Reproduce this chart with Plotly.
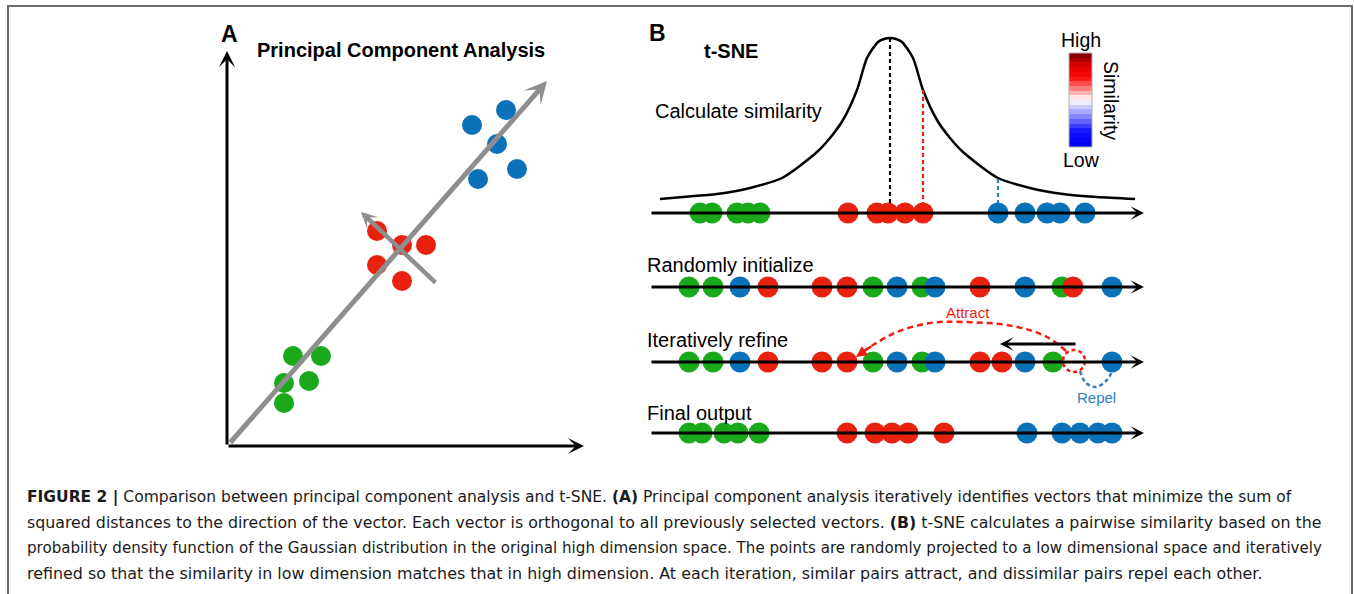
import plotly.graph_objects as go

W, H = 1354, 594

GREEN = "#19a91b"
RED = "#e8220f"
BLUE = "#0b72b9"
GRAY = "#8e8e8e"
COLORS = {"g": GREEN, "r": RED, "b": BLUE}

# ---------------- Panel A : PCA (canvas pixel units) ----------------
pca_green_x = [293, 321, 284, 309, 284]
pca_green_y = [356, 356, 383, 381, 403]
pca_red_x = [377, 402, 426, 377, 402]
pca_red_y = [231, 245, 245, 265, 281]
pca_blue_x = [506, 472, 497, 517, 478]
pca_blue_y = [110, 125, 144, 169, 179]
pca_origin = [227, 446]
pca_xaxis_tip = [584, 446]
pca_yaxis_tip = [227, 51]
pc1_tail, pc1_tip = [229, 444], [547, 81]
pc2_tail, pc2_tip = [437, 284], [361, 212]

# ---------------- Panel B : t-SNE ----------------
row_y = [213, 287, 362, 433]
row_x_start, row_x_tip = 650, 1144
row_labels = ["Calculate similarity", "Randomly initialize", "Iteratively refine", "Final output"]

row1_x = [700, 712, 737, 748, 760, 848, 877, 888, 905, 923, 998, 1025, 1047, 1060, 1085]
row1_c = ["g"] * 5 + ["r"] * 5 + ["b"] * 5
row2_x = [689, 713, 740, 768, 822, 847, 873, 897, 922, 935, 980, 1025, 1062, 1073, 1112]
row2_c = ["g", "g", "b", "r", "r", "r", "g", "b", "g", "b", "r", "b", "g", "r", "b"]
row3_x = [689, 713, 740, 768, 822, 847, 873, 897, 922, 935, 980, 1002, 1025, 1053, 1112]
row3_c = ["g", "g", "b", "r", "r", "r", "g", "b", "g", "b", "r", "r", "b", "g", "b"]
row4_x = [689, 702, 724, 738, 759, 847, 875, 892, 908, 944, 1027, 1062, 1080, 1098, 1112]
row4_c = ["g"] * 5 + ["r"] * 5 + ["b"] * 5

# heavy-tailed similarity curve
curve_x = [660, 683, 717, 750, 782, 817, 830, 843, 857, 867, 878, 884, 890,
           896, 902, 913, 923, 937, 950, 963, 998, 1030, 1063, 1097, 1135]
curve_y = [199, 197, 194, 188, 178, 152, 138, 120, 90, 58, 42, 39, 38,
           39, 42, 58, 90, 120, 138, 152, 178, 188, 194, 197, 199]
sim_lines_x = [890, 923, 998]
sim_lines_top = [38, 90, 179]
sim_lines_col = ["#000000", RED, "#2b7fc2"]

# attract / repel paths
attract_x = [1066, 1047, 1013, 963, 930, 897, 873, 861]
attract_y = [351, 337, 326, 322, 323, 332, 345, 353]
repel_x = [1080, 1086, 1096, 1106, 1112]
repel_y = [371, 383, 387, 381, 372]
ghost_center = [1074, 361]
push_tail, push_tip = [1077, 344], [1000, 344]

# colorbar levels (low -> high)
cbar_levels = [0.0, 0.05, 0.1, 0.15, 0.2, 0.25, 0.3, 0.35, 0.4, 0.45, 0.5,
               0.55, 0.6, 0.65, 0.7, 0.75, 0.8, 0.85, 0.9, 0.95]
cbar_x_edges = [1069, 1092]
cbar_y_top, cbar_y_bottom = 53, 147

caption_lines = [
    "<b>FIGURE 2 |</b> Comparison between principal component analysis and t-SNE. <b>(A)</b> Principal component analysis iteratively identifies vectors that minimize the sum of",
    "squared distances to the direction of the vector. Each vector is orthogonal to all previously selected vectors. <b>(B)</b> t-SNE calculates a pairwise similarity based on the",
    "probability density function of the Gaussian distribution in the original high dimension space. The points are randomly projected to a low dimensional space and iteratively",
    "refined so that the similarity in low dimension matches that in high dimension. At each iteration, similar pairs attract, and dissimilar pairs repel each other.",
]
caption_y = [497, 522, 548, 573]
caption_size = [15.5, 15.8, 15.1, 15.9]

FONT = "Liberation Sans, Arial, Helvetica, sans-serif"
CAP_FONT = "DejaVu Sans, sans-serif"

fig = go.Figure()
annotations = []
shapes = []


def arrow(tail, tip, color, width, size, head=3):
    annotations.append(dict(
        x=tip[0], y=tip[1], ax=tail[0], ay=tail[1], xref="x", yref="y",
        axref="x", ayref="y", text="", showarrow=True, arrowhead=head,
        arrowsize=size, arrowwidth=width, arrowcolor=color, standoff=0,
        startstandoff=0))


# border
shapes.append(dict(type="rect", xref="x", yref="y", x0=8, x1=1352, y0=6, y1=640,
                   line=dict(color="#6b6b6b", width=2), fillcolor="rgba(0,0,0,0)", layer="below"))

# Panel A axes and PCs
arrow(pca_origin, pca_xaxis_tip, "#000000", 3, 0.9)
arrow(pca_origin, pca_yaxis_tip, "#000000", 3, 0.9)
arrow(pc1_tail, pc1_tip, GRAY, 5, 0.75)
arrow(pc2_tail, pc2_tip, GRAY, 4.5, 0.6)

for xs, ys, c in [(pca_green_x, pca_green_y, GREEN), (pca_red_x, pca_red_y, RED),
                  (pca_blue_x, pca_blue_y, BLUE)]:
    fig.add_trace(go.Scatter(x=xs, y=ys, mode="markers",
                             marker=dict(size=20, color=c, line=dict(width=0)),
                             hoverinfo="skip", showlegend=False))

# Panel B rows
for yv in row_y:
    arrow([row_x_start, yv], [row_x_tip, yv], "#000000", 3, 0.75)

# similarity curve & dashed drops
fig.add_trace(go.Scatter(x=curve_x, y=curve_y, mode="lines",
                         line=dict(color="#000000", width=2.5, shape="spline", smoothing=0.7),
                         hoverinfo="skip", showlegend=False))
for xv, top, col in zip(sim_lines_x, sim_lines_top, sim_lines_col):
    fig.add_trace(go.Scatter(x=[xv, xv], y=[top, row_y[0]], mode="lines",
                             line=dict(color=col, width=2.2, dash="4px,3px"),
                             hoverinfo="skip", showlegend=False))

# attract / repel
fig.add_trace(go.Scatter(x=attract_x, y=attract_y, mode="lines",
                         line=dict(color="#f01c10", width=2.5, dash="6px,4px", shape="spline"),
                         hoverinfo="skip", showlegend=False))
arrow([attract_x[-2], attract_y[-2]], [856, 357], "#f01c10", 2.2, 1.0, head=2)
shapes.append(dict(type="circle", xref="x", yref="y", x0=ghost_center[0] - 11, x1=ghost_center[0] + 11,
                   y0=ghost_center[1] - 11, y1=ghost_center[1] + 11,
                   line=dict(color="#f01c10", width=2.5, dash="4px,3px")))
fig.add_trace(go.Scatter(x=repel_x, y=repel_y, mode="lines",
                         line=dict(color="#2b7fc2", width=2.5, dash="4px,3px", shape="spline"),
                         hoverinfo="skip", showlegend=False))
arrow(push_tail, push_tip, "#000000", 3, 0.75)

for xs, cs, yv in [(row1_x, row1_c, row_y[0]), (row2_x, row2_c, row_y[1]),
                   (row3_x, row3_c, row_y[2]), (row4_x, row4_c, row_y[3])]:
    fig.add_trace(go.Scatter(x=xs, y=[yv] * len(xs), mode="markers",
                             marker=dict(size=21, color=[COLORS[c] for c in cs], line=dict(width=0)),
                             hoverinfo="skip", showlegend=False))

# colorbar
n = len(cbar_levels)
step = (cbar_y_bottom - cbar_y_top) / n
y_edges = [cbar_y_bottom - i * step for i in range(n + 1)]
fig.add_trace(go.Heatmap(
    z=[[v] for v in cbar_levels], x=cbar_x_edges, y=y_edges, zmin=0, zmax=0.95,
    colorscale=[[0, "#0000f5"], [0.15, "#1414ff"], [0.35, "#9c9cff"], [0.5, "#ffffff"],
                [0.62, "#ff8a8a"], [0.75, "#ff0c0c"], [0.88, "#e00000"], [1, "#8a0000"]],
    showscale=False, hoverinfo="skip"))
shapes.append(dict(type="rect", xref="x", yref="y", x0=cbar_x_edges[0], x1=cbar_x_edges[1],
                   y0=cbar_y_top, y1=cbar_y_bottom, line=dict(color="#b0b0b0", width=1)))


def text(x, y, s, size, color="#000000", xanchor="center", angle=0, family=FONT):
    annotations.append(dict(x=x, y=y, xref="x", yref="y", text=s, showarrow=False,
                            xanchor=xanchor, yanchor="middle", textangle=angle,
                            font=dict(family=family, size=size, color=color)))


text(229, 34, "<b>A</b>", 23)
text(401, 50, "<b>Principal Component Analysis</b>", 20)
text(657, 33, "<b>B</b>", 23)
text(731, 51, "<b>t-SNE</b>", 20)
text(653, 111, row_labels[0], 20, xanchor="left")
text(645, 265, row_labels[1], 20, xanchor="left")
text(645, 340, row_labels[2], 20, xanchor="left")
text(645, 413, row_labels[3], 20, xanchor="left")
text(1081, 40, "High", 19.5)
text(1081, 160, "Low", 19.5)
text(1111, 100, "Similarity", 19.5, angle=90)
text(968, 312, "Attract", 15, color="#f01c10")
text(1096, 397, "Repel", 15, color="#2b7fc2")

for s, yv, sz in zip(caption_lines, caption_y, caption_size):
    text(25, yv, s, sz, color="#1a1a1a", xanchor="left", family=CAP_FONT)

fig.update_layout(
    width=W, height=H, autosize=False,
    margin=dict(l=0, r=0, t=0, b=0),
    paper_bgcolor="white", plot_bgcolor="white",
    xaxis=dict(range=[0, W], visible=False, fixedrange=True),
    yaxis=dict(range=[H, 0], visible=False, fixedrange=True),
    shapes=shapes, annotations=annotations, showlegend=False,
)

fig.write_html("out.html", config={"displayModeBar": False},
               post_script="document.body.style.margin='0px';")
